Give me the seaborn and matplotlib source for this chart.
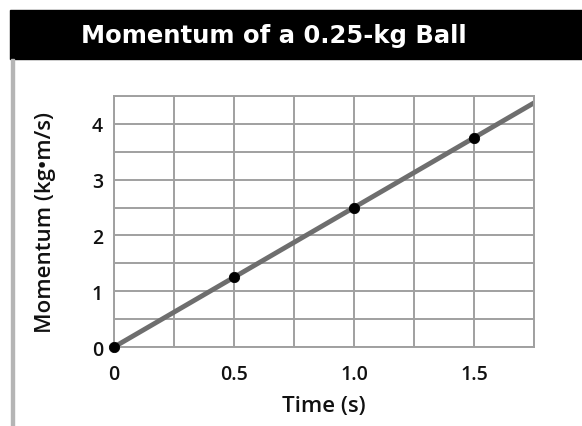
import pandas as pd
import seaborn as sns
import matplotlib.pyplot as plt
from matplotlib.patches import Rectangle

# Momentum of a 0.25-kg ball

point_time = [0, 0.5, 1.0, 1.5]
point_momentum = [0, 1.25, 2.5, 3.75]
line_time = [0, 1.75]
line_momentum = [0, 4.375]
x_ticks = [0, 0.5, 1.0, 1.5]
x_tick_labels = ["0", "0.5", "1.0", "1.5"]
y_ticks = [0, 1, 2, 3, 4]

points = pd.DataFrame({"time": point_time, "momentum": point_momentum})
fit = pd.DataFrame({"time": line_time, "momentum": line_momentum})

sns.set_style("white")
plt.rcParams['font.family'] = ['Open Sans', 'DejaVu Sans']

fig = plt.figure(figsize=(5.82, 4.27), dpi=100)
ax = fig.add_axes([0.196, 0.185, 0.7215, 0.588])

# title bar and left rule
fig.patches.append(Rectangle((10 / 582, 1 - 60 / 427), 1, 49 / 427,
                             transform=fig.transFigure, color="black", zorder=0))
fig.patches.append(Rectangle((11 / 582, 0), 2.5 / 582, 1 - 60 / 427,
                             transform=fig.transFigure, color="#b5b5b5", zorder=0))
fig.text(0.47, 1 - 36 / 427, "Momentum of a 0.25-kg Ball", color="white",
         fontsize=17.5, fontweight="bold", family="DejaVu Sans",
         ha="center", va="center")

for gx in [i * 0.25 for i in range(8)]:
    ax.axvline(gx, color="#a0a0a0", lw=1.4, zorder=1)
for gy in [i * 0.5 for i in range(10)]:
    ax.axhline(gy, color="#a0a0a0", lw=1.4, zorder=1)

sns.lineplot(data=fit, x="time", y="momentum", color="#6e6e6e", lw=3.5, ax=ax, zorder=2)
sns.scatterplot(data=points, x="time", y="momentum", color="black", s=55,
                edgecolor="black", ax=ax, zorder=3, clip_on=False)

ax.set_xlim(0, 1.75)
ax.set_ylim(0, 4.5)
ax.set_xticks(x_ticks)
ax.set_xticklabels(x_tick_labels)
ax.set_yticks(y_ticks)
ax.tick_params(length=0, labelsize=14, labelcolor="#111111")
ax.tick_params(axis="x", pad=12)
ax.tick_params(axis="y", pad=8)
for lbl in ax.get_xticklabels() + ax.get_yticklabels():
    lbl.set_fontweight("semibold")
for s in ax.spines.values():
    s.set_color("#a0a0a0")
    s.set_linewidth(1.4)

ax.set_xlabel("Time (s)", fontsize=16, fontweight="semibold", labelpad=8, color="#111111")
ax.set_ylabel("Momentum (kg\u2022m/s)", fontsize=16, fontweight="semibold", labelpad=26,
              color="#111111")

fig.savefig("out.png", dpi=100)
